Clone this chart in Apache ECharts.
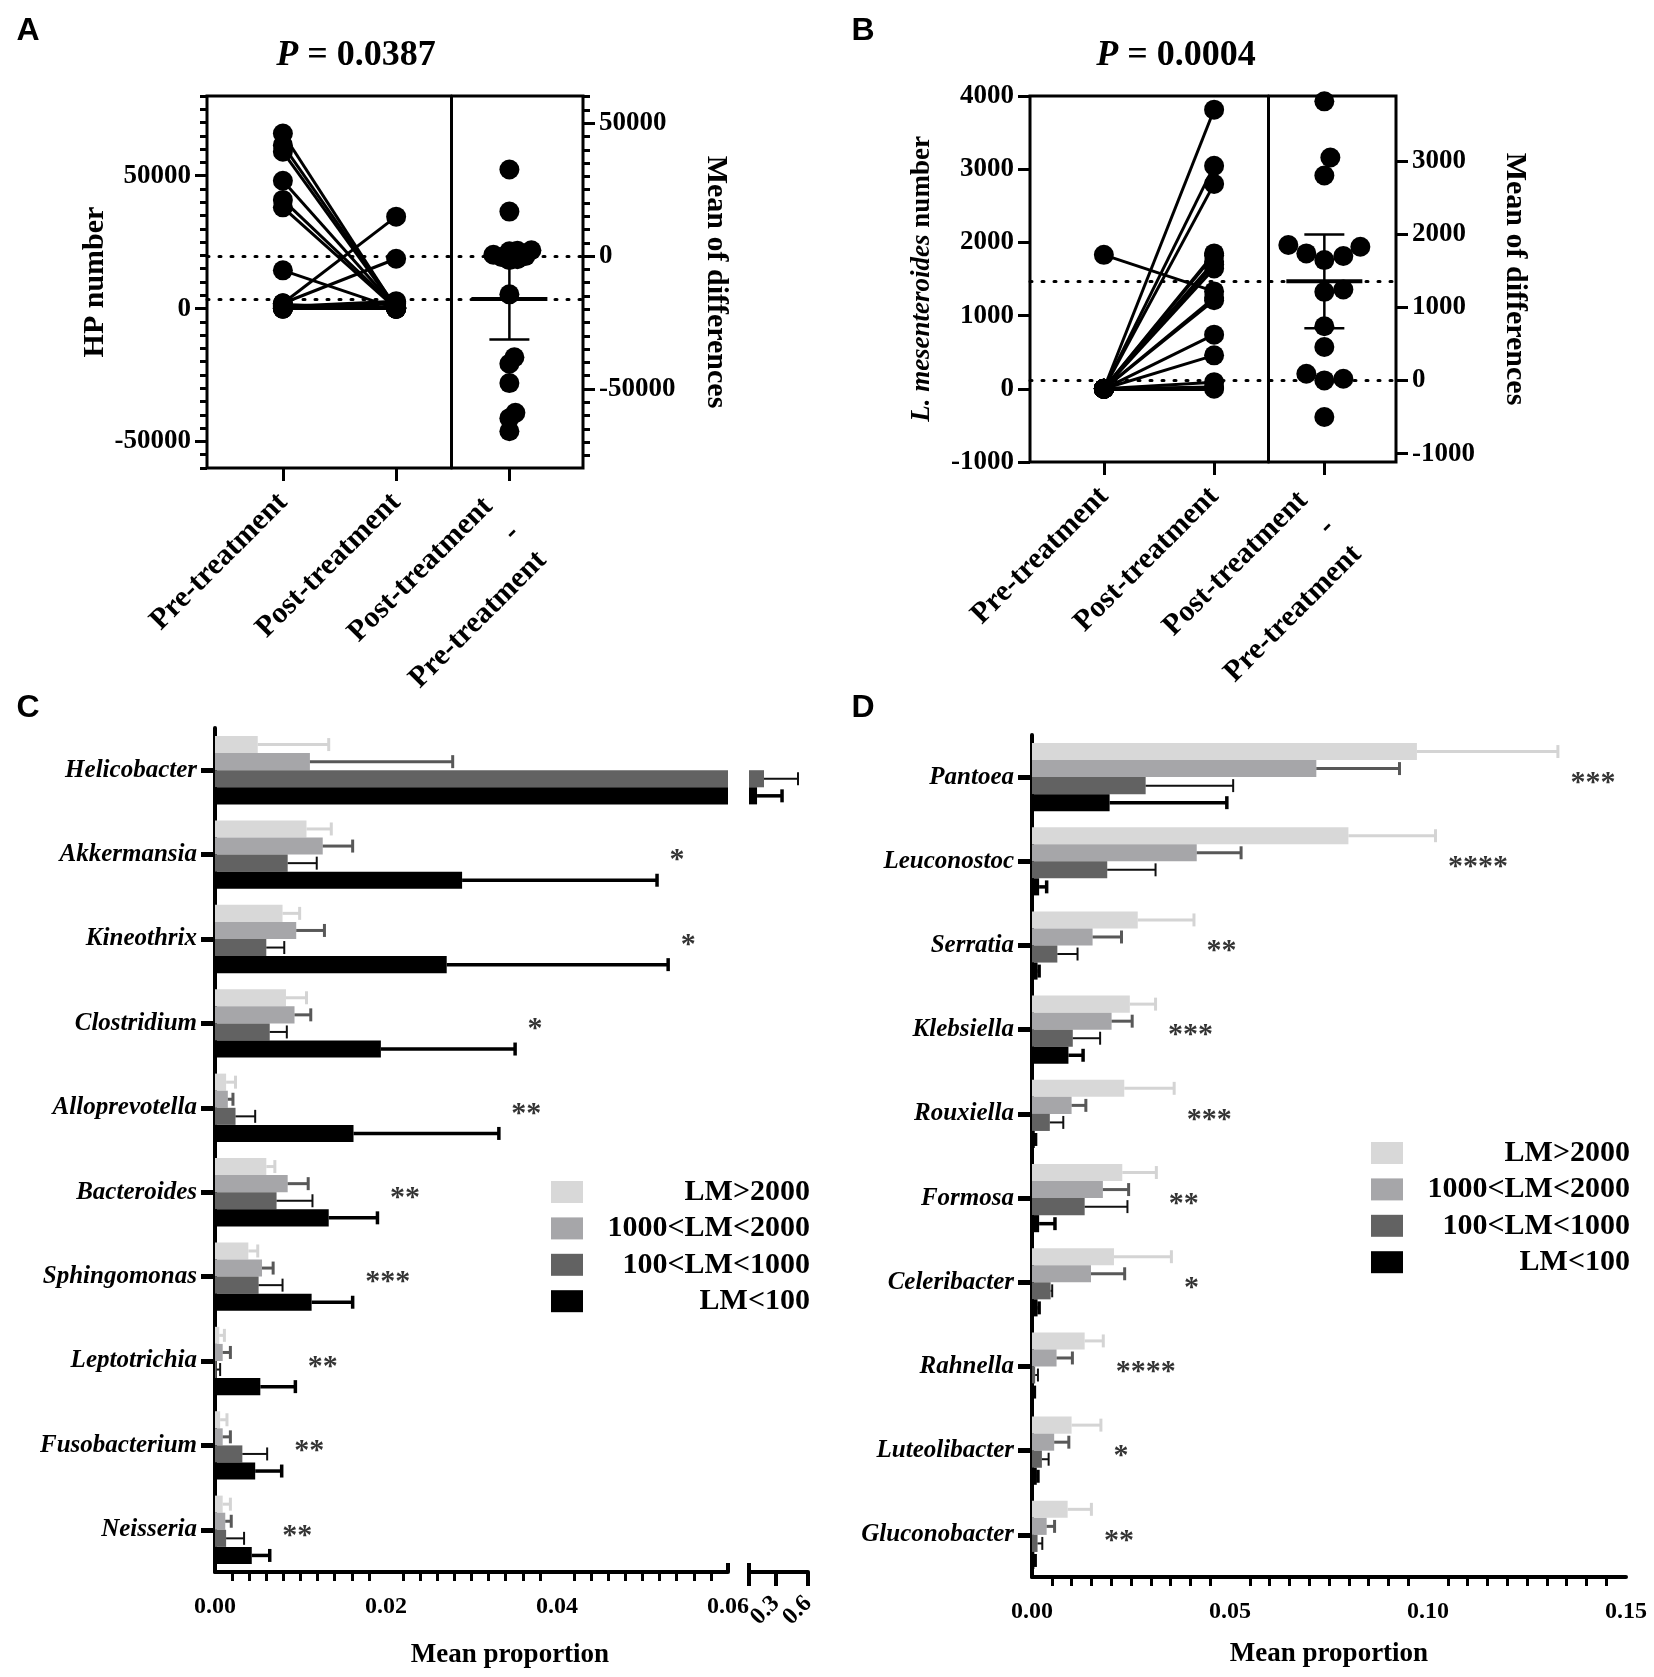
<!DOCTYPE html>
<html>
<head>
<meta charset="utf-8">
<script src="https://cdn.jsdelivr.net/npm/echarts@6/dist/echarts.min.js"></script>
<style>
  html, body { margin: 0; padding: 0; background: #fff; }
  #chart { width: 1654px; height: 1677px; }
</style>
</head>
<body>
<div id="chart"></div>
<script>
// ---------- data ----------
// A: HP number per patient, paired
const hpPre  = [65900, 61500, 59000, 48100, 40900, 38100, 14400, 2000, 2000, 800, 0, 1500, 0, 0, 1200, 0, 300];
const hpPost = [0, 500, 0, 300, 400, 0, 0, 34600, 18750, 2800, 0, 0, 500, 1800, 0, 2200, 0];
const hpLeftTicks = [-50000, 0, 50000];
const hpRightTicks = [-50000, 0, 50000];

// B: L. mesenteroides number per patient, paired
const lmPre  = [0, 0, 0, 0, 0, 0, 0, 0, 0, 0, 1830, 0, 0, 0, 0, 0];
const lmPost = [3813, 3046, 2799, 1850, 1826, 1735, 1700, 1644, 1242, 1210, 1330, 740, 457, 91, 23, 0];
const lmLeftTicks = [-1000, 0, 1000, 2000, 3000, 4000];
const lmRightTicks = [-1000, 0, 1000, 2000, 3000];

// third label sits one line lower and a little left of its tick, as in the figure
const pairLabels = ['Pre-treatment', 'Post-treatment', '\n\nPost-treatment    \n-    \nPre-treatment    '];
const pairLabelMargins = [30, 30, 13];

// C/D groups
const groupNames = ['LM>2000', '1000<LM<2000', '100<LM<1000', 'LM<100'];

// C: genera, mean proportion and error per group
const generaC = ['Helicobacter', 'Akkermansia', 'Kineothrix', 'Clostridium', 'Alloprevotella',
  'Bacteroides', 'Sphingomonas', 'Leptotrichia', 'Fusobacterium', 'Neisseria'];
const cLight    = [0.0050, 0.0107, 0.0079, 0.0083, 0.0013, 0.0060, 0.0039, 0.0005, 0.0006, 0.0009];
const cLightErr = [0.0083, 0.0029, 0.0020, 0.0024, 0.0011, 0.0010, 0.0011, 0.0006, 0.0008, 0.0009];
const cGray     = [0.0111, 0.0126, 0.0095, 0.0093, 0.0015, 0.0085, 0.0055, 0.0009, 0.0009, 0.0012];
const cGrayErr  = [0.0167, 0.0035, 0.0033, 0.0019, 0.0006, 0.0024, 0.0013, 0.0009, 0.0009, 0.0007];
const cDark     = [0.19, 0.0085, 0.0060, 0.0064, 0.0024, 0.0072, 0.0051, 0.0002, 0.0032, 0.0013];
const cDarkErr  = [0.317, 0.0034, 0.0021, 0.0020, 0.0023, 0.0042, 0.0028, 0.0004, 0.0029, 0.0021];
const cBlack    = [0.125, 0.0289, 0.0271, 0.0194, 0.0162, 0.0133, 0.0113, 0.0053, 0.0047, 0.0043];
const cBlackErr = [0.233, 0.0228, 0.0259, 0.0157, 0.0170, 0.0057, 0.0048, 0.0041, 0.0031, 0.0021];
const starsC = ['', '*', '*', '*', '**', '**', '***', '**', '**', '**'];
const cBreakTicks = [0.3, 0.6];

// D
const generaD = ['Pantoea', 'Leuconostoc', 'Serratia', 'Klebsiella', 'Rouxiella',
  'Formosa', 'Celeribacter', 'Rahnella', 'Luteolibacter', 'Gluconobacter'];
const dLight    = [0.0972, 0.0799, 0.0267, 0.0247, 0.0233, 0.0228, 0.0207, 0.0133, 0.0100, 0.0090];
const dLightErr = [0.0356, 0.0220, 0.0142, 0.0065, 0.0126, 0.0086, 0.0145, 0.0047, 0.0074, 0.0060];
const dGray     = [0.0718, 0.0416, 0.0153, 0.0201, 0.0100, 0.0179, 0.0149, 0.0062, 0.0056, 0.0037];
const dGrayErr  = [0.0210, 0.0112, 0.0073, 0.0052, 0.0036, 0.0065, 0.0085, 0.0040, 0.0037, 0.0020];
const dDark     = [0.0287, 0.0190, 0.0064, 0.0103, 0.0045, 0.0133, 0.0047, 0.0008, 0.0025, 0.0014];
const dDarkErr  = [0.0221, 0.0122, 0.0051, 0.0069, 0.0034, 0.0108, 0.0004, 0.0007, 0.0017, 0.0012];
const dBlack    = [0.0196, 0.0018, 0.0014, 0.0092, 0.0007, 0.0018, 0.0014, 0.0004, 0.0012, 0.0006];
const dBlackErr = [0.0296, 0.0019, 0.0004, 0.0037, 0.0002, 0.0040, 0.0004, 0.0002, 0.0003, 0.0002];
const starsD = ['***', '****', '**', '***', '***', '**', '*', '****', '*', '**'];

// ---------- styles ----------
const serif = "'Liberation Serif', 'Times New Roman', serif";
const sans = "'Liberation Sans', Arial, sans-serif";
const barColors = ['#d8d8d8', '#a6a6a9', '#626262', '#000000'];
const errColors = ['#d4d4d4', '#585858', '#111111', '#000000'];
const errWidths = [3, 3, 2, 3.5];
const BAR_GAP = 0.19;
const X_MIN = -0.67, X_MAX = 2.65, X_DIVIDER = 1.49;
const T95 = { 15: 2.131, 16: 2.120 };

const grids = [], xAxes = [], yAxes = [], series = [];

const mean = a => a.reduce((s, v) => s + v, 0) / a.length;
function ci95(a) {
  const m = mean(a);
  const sd = Math.sqrt(a.reduce((s, v) => s + (v - m) * (v - m), 0) / (a.length - 1));
  const h = T95[a.length - 1] * sd / Math.sqrt(a.length);
  return [m, m - h, m + h];
}
function multiples(min, max, step) {
  const out = [];
  for (let v = Math.ceil(min / step) * step; v <= max + 1e-9; v += step) out.push(v);
  return out;
}
// simple bee swarm: horizontal pixel offsets so dots keep a minimum distance
function swarm(values, pxPerY, pxPerX, minDist) {
  const order = values.map((v, i) => i).sort((a, b) => values[a] - values[b]);
  const placed = [];
  const off = values.map(() => 0);
  order.forEach(i => {
    const y = values[i] * pxPerY;
    for (let k = 0; k < 500; k++) {
      const dx = (k % 2 ? 1 : -1) * Math.ceil(k / 2);
      if (placed.every(p => (p[0] - dx) ** 2 + (p[1] - y) ** 2 >= minDist * minDist)) {
        placed.push([dx, y]);
        off[i] = dx / pxPerX;
        break;
      }
    }
  });
  return off;
}

function valueYAxis(gi, pos, min, max, ticks, len, labels) {
  return {
    gridIndex: gi, type: 'value', position: pos, min: min, max: max,
    axisLine: { show: false, onZero: false },
    splitLine: { show: false },
    axisTick: { customValues: ticks, length: len, lineStyle: { width: 3, color: '#000' } },
    axisLabel: labels ? {
      customValues: ticks, formatter: v => String(v), margin: 16,
      fontFamily: serif, fontWeight: 'bold', fontSize: 27, color: '#000'
    } : { show: false }
  };
}

function meanCiItem(params, api) {
  const c = api.coord([api.value(0), api.value(1)]);
  const l = api.coord([api.value(0), api.value(2)]);
  const h = api.coord([api.value(0), api.value(3)]);
  const st = { stroke: '#000', lineWidth: 2.5 };
  return {
    type: 'group', children: [
      { type: 'line', shape: { x1: c[0] - 38, y1: c[1], x2: c[0] + 38, y2: c[1] }, style: { stroke: '#000', lineWidth: 4 } },
      { type: 'line', shape: { x1: c[0], y1: l[1], x2: c[0], y2: h[1] }, style: st },
      { type: 'line', shape: { x1: c[0] - 20, y1: l[1], x2: c[0] + 20, y2: l[1] }, style: st },
      { type: 'line', shape: { x1: c[0] - 20, y1: h[1], x2: c[0] + 20, y2: h[1] }, style: st }
    ]
  };
}

function addPaired(p) {
  const gi = grids.length;
  grids.push({ left: p.left, top: p.top, width: p.width, height: p.height, show: true, borderColor: '#000', borderWidth: 3 });
  const xi = xAxes.length;
  // one x axis per group label, so the long rotated labels are never dropped as overlapping
  pairLabels.forEach((txt, i) => {
    xAxes.push({
      gridIndex: gi, type: 'value', position: 'bottom', min: X_MIN, max: X_MAX,
      axisLine: { show: false, onZero: false },
      splitLine: { show: false },
      axisTick: { customValues: [i], length: 13, lineStyle: { width: 3, color: '#000' } },
      axisLabel: {
        customValues: [i], formatter: () => txt, rotate: 45, margin: pairLabelMargins[i],
        showMinLabel: true, showMaxLabel: true,
        fontFamily: serif, fontWeight: 'bold', fontSize: 30, lineHeight: 38, color: '#000'
      }
    });
  });

  const preMean = mean(p.pre), postMean = mean(p.post);
  const diffs = p.post.map((v, i) => v - p.pre[i]);
  const ci = ci95(diffs);
  const rMin = p.yMin - preMean, rMax = p.yMax - preMean;

  const yL = yAxes.length;
  const left = valueYAxis(gi, 'left', p.yMin, p.yMax, p.leftTicks, 12, true);
  Object.assign(left, {
    name: p.leftName, nameLocation: 'middle', nameGap: p.leftNameGap,
    nameTextStyle: {
      fontFamily: serif, fontWeight: 'bold', fontSize: p.nameSize, color: '#000',
      rich: { i: { fontFamily: serif, fontWeight: 'bold', fontStyle: 'italic', fontSize: p.nameSize, color: '#000' } }
    }
  });
  yAxes.push(left);
  const yR = yAxes.length;
  const right = valueYAxis(gi, 'right', rMin, rMax, p.rightTicks, 12, true);
  Object.assign(right, {
    name: 'Mean of differences', nameLocation: 'middle', nameGap: p.rightNameGap, nameRotate: -90,
    nameTextStyle: { fontFamily: serif, fontWeight: 'bold', fontSize: 30, color: '#000' }
  });
  yAxes.push(right);
  if (p.minorStep) {
    yAxes.push(valueYAxis(gi, 'left', p.yMin, p.yMax, multiples(p.yMin, p.yMax, p.minorStep), 7, false));
    yAxes.push(valueYAxis(gi, 'right', rMin, rMax, multiples(rMin, rMax, p.minorStep), 7, false));
  }

  series.push({
    type: 'lines', coordinateSystem: 'cartesian2d', xAxisIndex: xi, yAxisIndex: yL, silent: true, z: 2,
    lineStyle: { color: '#000', width: 3, opacity: 1 },
    data: p.pre.map((v, i) => ({ coords: [[0, v], [1, p.post[i]]] }))
  });
  series.push({
    type: 'scatter', xAxisIndex: xi, yAxisIndex: yL, symbolSize: 20, z: 3, silent: true,
    itemStyle: { color: '#000', opacity: 1 },
    data: p.pre.map(v => [0, v]).concat(p.post.map(v => [1, v])),
    markLine: {
      silent: true, symbol: 'none', label: { show: false },
      lineStyle: { type: [2, 10], width: 3, color: '#000', cap: 'round' },
      data: [
        { yAxis: preMean }, { yAxis: postMean },
        { xAxis: X_DIVIDER, lineStyle: { type: 'solid', width: 3, color: '#000' } }
      ]
    }
  });
  const offs = swarm(diffs, p.height / (p.yMax - p.yMin), p.width / (X_MAX - X_MIN), p.swarmGap);
  series.push({
    type: 'scatter', xAxisIndex: xi, yAxisIndex: yR, symbolSize: 20, z: 3, silent: true,
    itemStyle: { color: '#000', opacity: 1 },
    data: diffs.map((d, i) => [2 + offs[i], d])
  });
  series.push({
    type: 'custom', xAxisIndex: xi, yAxisIndex: yR, z: 4, silent: true,
    data: [[2, ci[0], ci[1], ci[2]]], renderItem: meanCiItem
  });
}

function errBar(k) {
  return function (params, api) {
    const cs = params.coordSys;
    const a = api.coord([api.value(0), api.value(1)]);
    const b = api.coord([api.value(2), api.value(1)]);
    // bar not drawn in this segment -> no error bar here either
    if (a[0] < cs.x - 0.5) return null;
    const band = api.size([0, 1])[1];
    const bw = band * (1 - BAR_GAP) / 4;
    const y = a[1] + (k - 1.5) * bw;
    const x1 = a[0], x2 = Math.min(b[0], cs.x + cs.width);
    if (x2 <= x1) return null;
    const st = { stroke: errColors[k], lineWidth: errWidths[k] };
    const kids = [{ type: 'line', shape: { x1: x1, y1: y, x2: x2, y2: y }, style: st }];
    if (b[0] <= cs.x + cs.width + 0.5) {
      kids.push({ type: 'line', shape: { x1: b[0], y1: y - bw * 0.38, x2: b[0], y2: y + bw * 0.38 }, style: st });
    }
    return { type: 'group', children: kids };
  };
}

function addBars(g) {
  const gi = grids.length;
  grids.push({ left: g.left, top: g.top, width: g.width, height: g.height });
  const xi = xAxes.length;
  xAxes.push(Object.assign({
    gridIndex: gi, type: 'value', position: 'bottom',
    axisLine: { show: true, onZero: false, lineStyle: { width: 4, color: '#000' } },
    splitLine: { show: false }, minorSplitLine: { show: false }
  }, g.xAxis));
  (g.extraX || []).forEach(ax => xAxes.push(Object.assign({ gridIndex: gi, type: 'value', position: 'bottom',
    axisLine: { show: false, onZero: false }, splitLine: { show: false } }, ax)));
  const yi = yAxes.length;
  yAxes.push({
    gridIndex: gi, type: 'category', data: g.cats, inverse: true, position: 'left', show: g.showY,
    axisLine: { show: true, onZero: false, lineStyle: { width: 4, color: '#000' } },
    axisTick: { show: true, alignWithLabel: true, length: 14, lineStyle: { width: 5, color: '#000' } },
    axisLabel: { margin: 18, fontFamily: serif, fontStyle: 'italic', fontWeight: 'bold', fontSize: 25, color: '#000' },
    splitLine: { show: false }
  });
  const lo = g.xAxis.min;
  groupNames.forEach((name, k) => {
    series.push({
      type: 'bar', name: name, xAxisIndex: xi, yAxisIndex: yi, clip: true, silent: true,
      barCategoryGap: (BAR_GAP * 100) + '%', barGap: '0%',
      itemStyle: { color: barColors[k] },
      data: g.vals[k].map(v => (v > lo ? v : '-'))
    });
  });
  groupNames.forEach((name, k) => {
    series.push({
      type: 'custom', xAxisIndex: xi, yAxisIndex: yi, z: 3, silent: true,
      encode: { x: [0, 2], y: 1 },
      data: g.vals[k].map((v, i) => [v, i, v + g.errs[k][i]]),
      renderItem: errBar(k)
    });
  });
  if (g.stars) {
    const ends = g.cats.map((c, i) => Math.max(...g.vals.map((vs, k) => vs[i] + g.errs[k][i])));
    series.push({
      type: 'scatter', xAxisIndex: xi, yAxisIndex: yi, symbolSize: 1, silent: true, z: 5,
      itemStyle: { color: 'rgba(0,0,0,0)' },
      label: { show: true, position: 'right', distance: 12, offset: [0, 6],
        fontFamily: serif, fontWeight: 'bold', fontSize: 30, color: '#000' },
      data: g.stars.map((s, i) => ({ value: [ends[i], i], label: { show: !!s, formatter: s } }))
    });
  }
}

// upward half of the axis-break marks
const breakMark = (min, max, at) => ({
  min: min, max: max,
  axisTick: { show: true, inside: true, customValues: [at], length: 9, lineStyle: { width: 4, color: '#000' } },
  axisLabel: { show: false }
});

// ---------- panels ----------
addPaired({
  left: 207, top: 96, width: 376, height: 372, pre: hpPre, post: hpPost,
  yMin: -60000, yMax: 80000, leftTicks: hpLeftTicks, rightTicks: hpRightTicks, minorStep: 5000,
  leftName: 'HP number', leftNameGap: 93, rightNameGap: 118, nameSize: 30, swarmGap: 8
});
addPaired({
  left: 1030, top: 96, width: 366, height: 366, pre: lmPre, post: lmPost,
  yMin: -1000, yMax: 4000, leftTicks: lmLeftTicks, rightTicks: lmRightTicks, minorStep: null,
  leftName: '{i|L. mesenteroides} number', leftNameGap: 94, rightNameGap: 104, nameSize: 27, swarmGap: 19
});

const cVals = [cLight, cGray, cDark, cBlack], cErrs = [cLightErr, cGrayErr, cDarkErr, cBlackErr];
const cTickFont = { fontFamily: serif, fontWeight: 'bold', fontSize: 24, color: '#000' };
addBars({
  left: 215, top: 728, width: 513, height: 844, cats: generaC, showY: true,
  vals: cVals, errs: cErrs, stars: starsC,
  xAxis: {
    min: 0, max: 0.06, interval: 0.02,
    axisTick: { length: 16, lineStyle: { width: 4, color: '#000' } },
    minorTick: { show: true, splitNumber: 10, length: 9, lineStyle: { width: 3, color: '#000' } },
    axisLabel: Object.assign({ formatter: v => v.toFixed(2), margin: 23 }, cTickFont)
  },
  extraX: [breakMark(0, 0.06, 0.06)]
});
// broken part of the C axis: one axis per tick label so the rotated labels are not dropped as overlapping
const breakLabel = v => Object.assign({ customValues: [v], formatter: x => String(x), rotate: 45, margin: 28,
  showMinLabel: true, showMaxLabel: true }, cTickFont);
addBars({
  left: 749, top: 728, width: 59, height: 844, cats: generaC, showY: false,
  vals: cVals, errs: cErrs, stars: null,
  xAxis: {
    min: 0.05, max: 0.6,
    axisTick: { show: true, customValues: [0.05, cBreakTicks[0]], length: 14, lineStyle: { width: 4, color: '#000' } },
    axisLabel: breakLabel(cBreakTicks[0])
  },
  extraX: [{
    min: 0.05, max: 0.6,
    axisTick: { show: true, customValues: [cBreakTicks[1]], length: 14, lineStyle: { width: 4, color: '#000' } },
    axisLabel: breakLabel(cBreakTicks[1])
  }, breakMark(0.05, 0.6, 0.05)]
});

addBars({
  left: 1032, top: 735, width: 594, height: 842, cats: generaD, showY: true,
  vals: [dLight, dGray, dDark, dBlack], errs: [dLightErr, dGrayErr, dDarkErr, dBlackErr], stars: starsD,
  xAxis: {
    min: 0, max: 0.15, interval: 0.05,
    axisTick: { length: 16, lineStyle: { width: 4, color: '#000' } },
    minorTick: { show: true, splitNumber: 10, length: 9, lineStyle: { width: 3, color: '#000' } },
    axisLabel: Object.assign({ formatter: v => v.toFixed(2), margin: 23 }, cTickFont),
    name: 'Mean proportion', nameLocation: 'middle', nameGap: 64,
    nameTextStyle: { fontFamily: serif, fontWeight: 'bold', fontSize: 27, color: '#000' }
  }
});

function legendAt(left, top) {
  return {
    data: groupNames, orient: 'vertical', left: left, top: top, selectedMode: false,
    icon: 'rect', itemWidth: 32, itemHeight: 22, itemGap: 6.4,
    formatter: n => '{r|' + n + '}',
    textStyle: { rich: { r: { width: 222, align: 'right',
      fontFamily: serif, fontWeight: 'bold', fontSize: 30, color: '#000' } } }
  };
}

function label(text, x, y, font, rich) {
  return { type: 'text', x: x, y: y, silent: true,
    style: { text: text, align: 'center', verticalAlign: 'middle', font: font, fill: '#000', rich: rich } };
}
const pRich = { i: { fontFamily: serif, fontWeight: 'bold', fontStyle: 'italic', fontSize: 36 } };

const chart = echarts.init(document.getElementById('chart'));
chart.setOption({
  animation: false,
  backgroundColor: '#fff',
  grid: grids,
  xAxis: xAxes,
  yAxis: yAxes,
  legend: [legendAt(546, 1172), legendAt(1366, 1133)],
  graphic: [
    label('A', 28, 31, 'bold 32px ' + sans),
    label('B', 863, 31, 'bold 32px ' + sans),
    label('C', 28, 708, 'bold 32px ' + sans),
    label('D', 863, 708, 'bold 32px ' + sans),
    label('{i|P} = 0.0387', 356, 56, 'bold 36px ' + serif, pRich),
    label('{i|P} = 0.0004', 1176, 56, 'bold 36px ' + serif, pRich),
    label('Mean proportion', 510, 1655, 'bold 27px ' + serif)
  ],
  series: series
});
</script>
</body>
</html>
